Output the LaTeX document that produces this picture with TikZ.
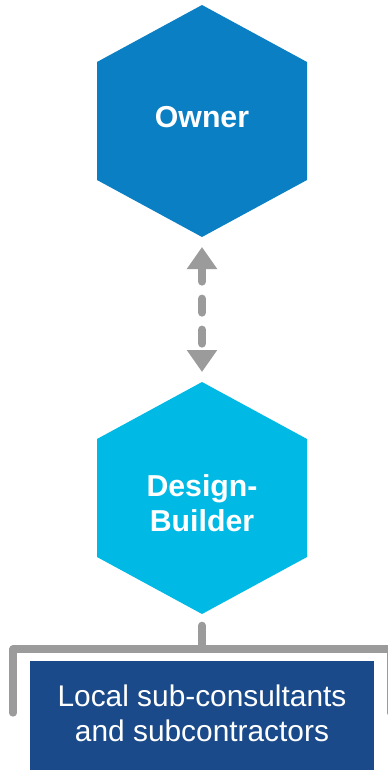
\documentclass[tikz,border=0pt]{standalone}
\usepackage{fontspec}
\setmainfont{Liberation Sans}
\usetikzlibrary{arrows.meta}
\definecolor{ownerblue}{RGB}{11,127,196}
\definecolor{builderblue}{RGB}{0,186,229}
\definecolor{subsblue}{RGB}{26,74,137}
\definecolor{linegray}{RGB}{155,155,155}

\begin{document}
\begin{tikzpicture}[x=0.75pt, y=-0.75pt,
    hextext/.style={text=white, font=\bfseries\fontsize{22.7}{26.5}\selectfont, align=center, inner sep=0pt},
    twoway/.style={linegray, line width=6pt, line cap=round, dash pattern=on 10.5pt off 12.75pt,
      {Triangle[width=21.75pt, length=16.5pt]}-{Triangle[width=21.75pt, length=16.5pt]}},
    bracket/.style={linegray, line width=5.4pt, line cap=round, line join=round},
    subbox/.style={fill=subsblue, minimum width=258pt, minimum height=90pt, inner sep=0pt},
    substext/.style={text=white, font=\fontsize{22.4}{26.25}\selectfont, align=center, inner sep=0pt}]
  \useasboundingbox (0,0) rectangle (388,770);
  % Hexagons
  \foreach \cy/\col in {121/ownerblue, 498/builderblue}
    \fill[\col] (202,\cy) ++(0,-116) -- ++(105,57) -- ++(0,118) -- ++(-105,57)
      -- ++(-105,-57) -- ++(0,-118) -- cycle;
  \coordinate (owner-s) at (202,237);
  \coordinate (builder-n) at (202,382);
  \coordinate (builder-s) at (202,614);
  \node[hextext] (owner) at (202,117.5) {Owner};
  \node[hextext] (builder) at (202,503) {Design-\\Builder};
  % Owner <-> Design-Builder
  \draw[twoway, shorten <=7.5pt, shorten >=7.5pt] (owner-s) -- (builder-n);
  % Bracket
  \coordinate (fork) at (202,649);
  \coordinate (fork-w) at (13,713);
  \coordinate (fork-e) at (391,713);
  \draw[bracket, shorten <=8.5pt] (builder-s) -- (fork);
  \draw[bracket] (fork-w) |- (fork) -| (fork-e);
  % Sub-consultants box
  \node[subbox, anchor=north] (subs) at (202,661) {};
  \node[substext] (substext) at (202,713.5) {Local sub-consultants\\and subcontractors};
\end{tikzpicture}
\end{document}
